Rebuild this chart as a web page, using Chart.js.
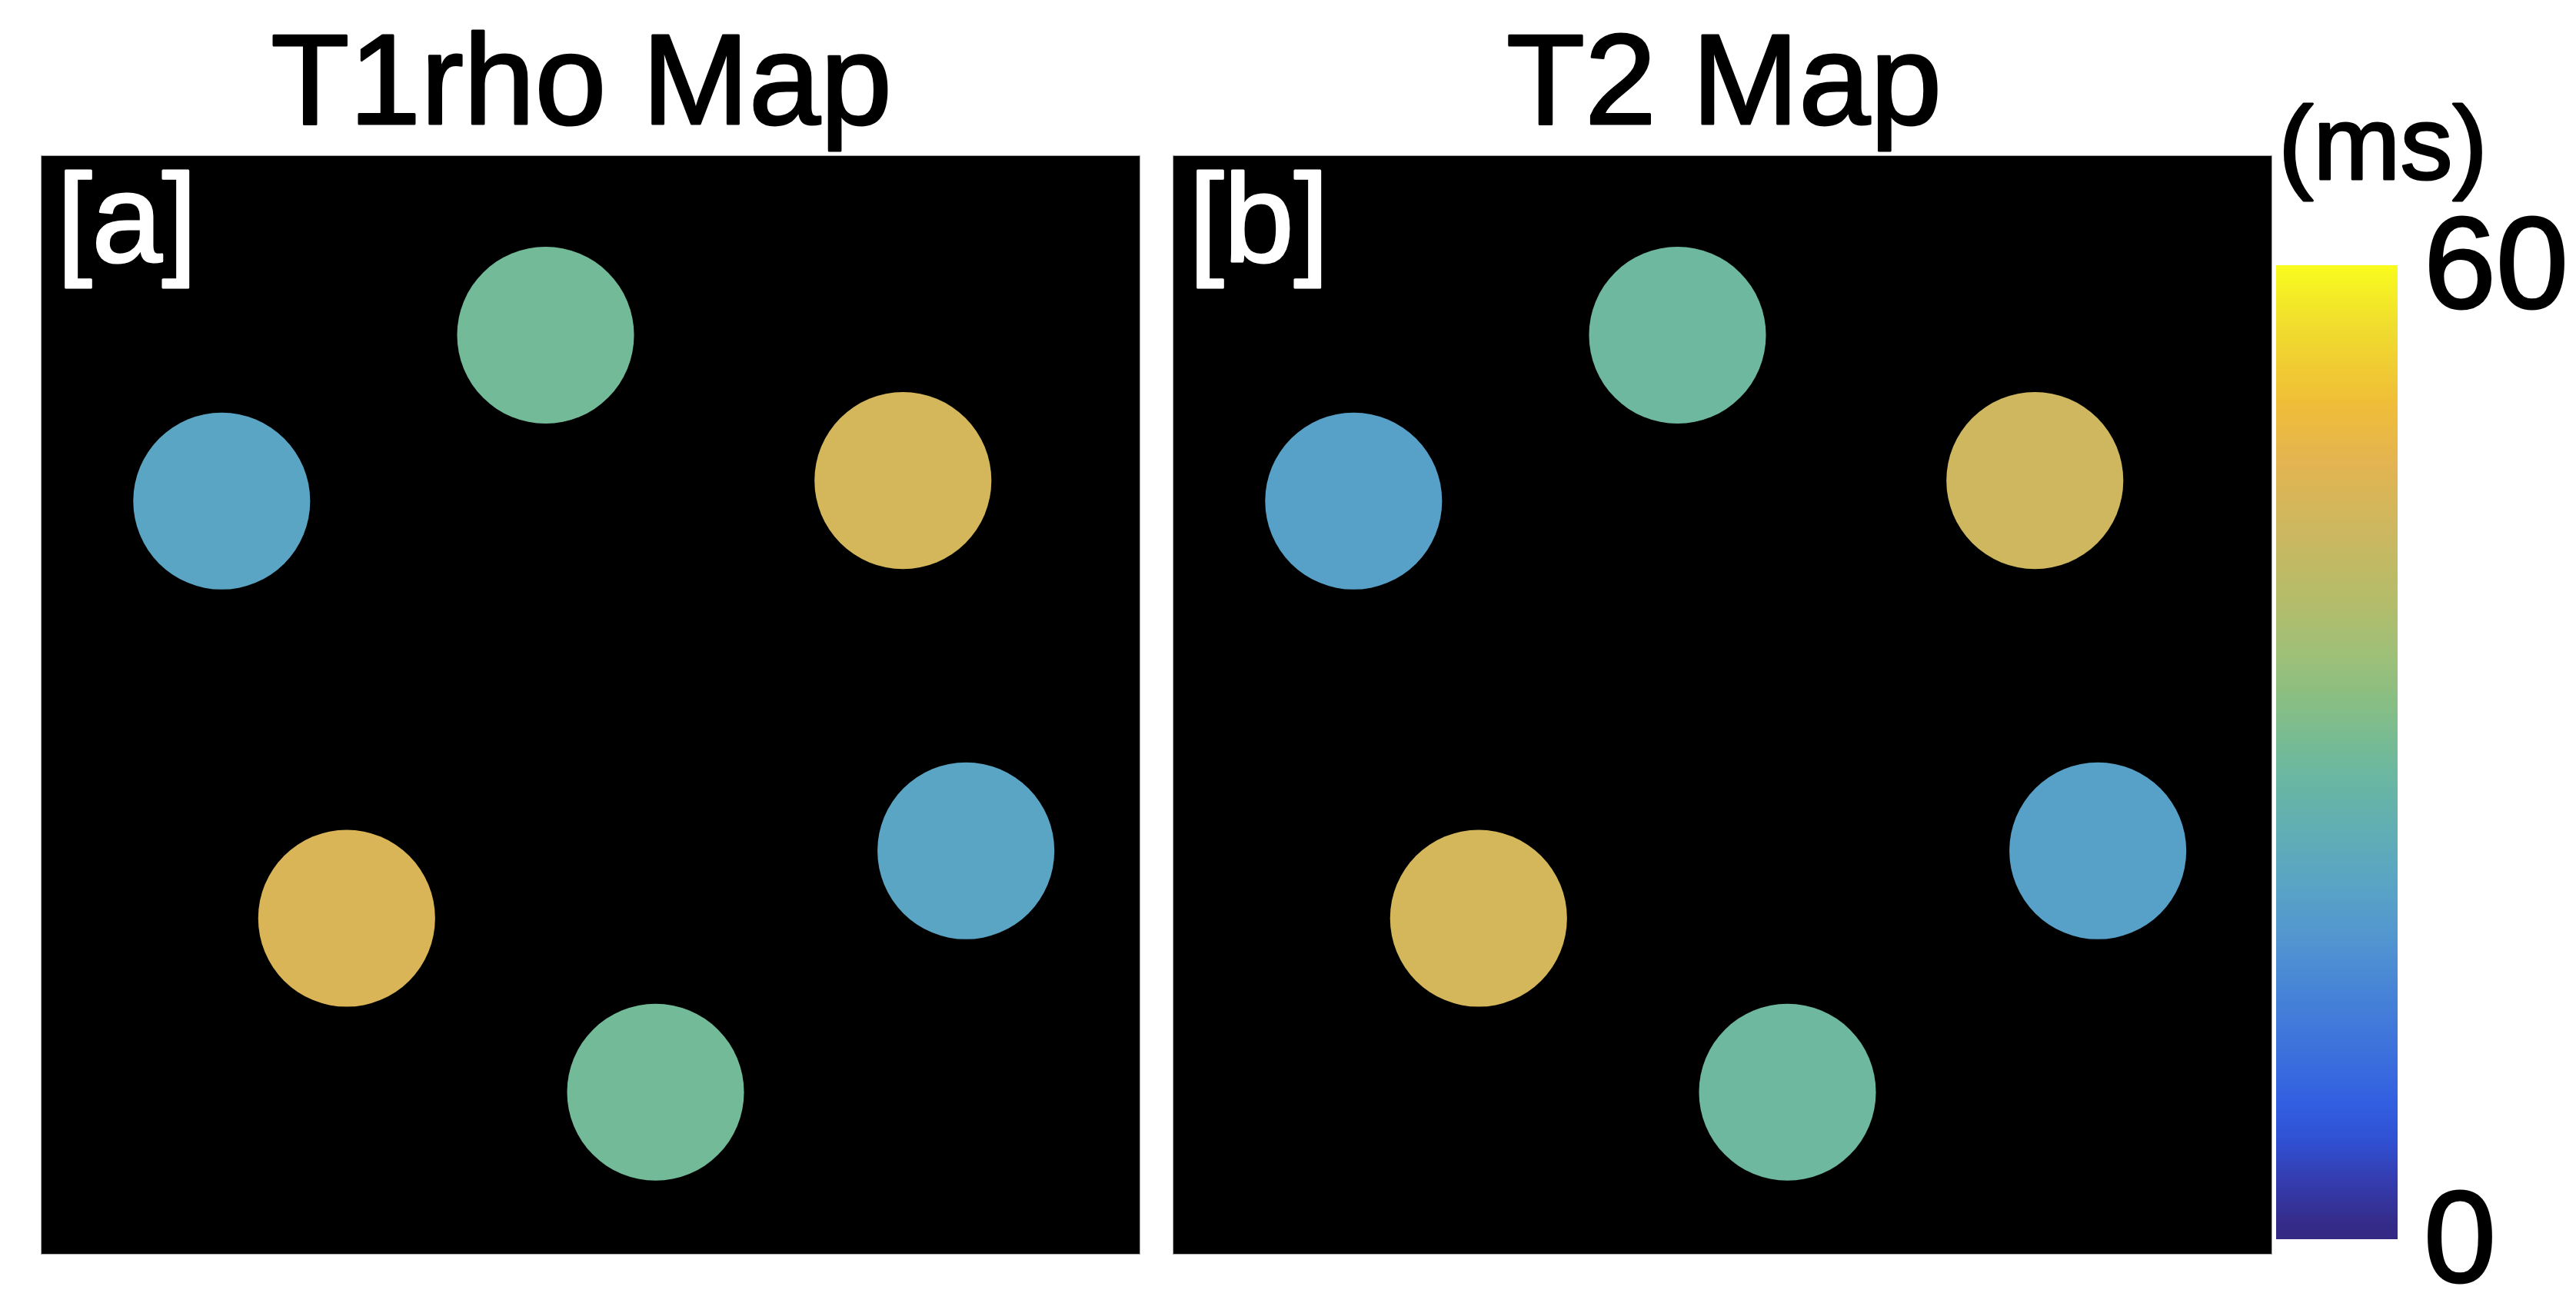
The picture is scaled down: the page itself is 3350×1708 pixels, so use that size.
<!DOCTYPE html>
<html>
<head>
<meta charset="utf-8">
<script src="https://cdn.jsdelivr.net/npm/chart.js@4/dist/chart.umd.min.js"></script>
<style>
  html, body { margin: 0; padding: 0; background: #fff; }
  body { width: 3350px; height: 1708px; position: relative; overflow: hidden; }
  canvas { position: absolute; top: 0; }
</style>
</head>
<body>
<canvas id="mapA" width="1430" height="1632" style="left:53px"></canvas>
<canvas id="mapB" width="1430" height="1632" style="left:1525px"></canvas>
<canvas id="cbar" width="500" height="1708" style="left:2850px"></canvas>
<script>
// vial centres, in image pixels (image is imageSize x imageSize)
var imageSize = 220;
var vialRadius = 17.7;
var vialX = [101, 36.2, 172.5, 61.2, 185.1, 123];
var vialY = [36, 69.2, 65.1, 152.7, 139.2, 187.5];

// mean relaxation time per vial (ms)
var t1rhoValues = [30, 22, 45, 46, 22, 30];
var t2Values = [29, 21, 44, 45, 21, 29];

var colorMin = 0;
var colorMax = 60;
var colorTicks = [0, 60];

// colormap sampled from the colour bar, [fraction, rgb]
var cmap = [
    [0.00, [52, 40, 130]],
    [0.02, [53, 45, 140]],
    [0.06, [52, 60, 175]],
    [0.10, [48, 80, 210]],
    [0.14, [50, 95, 225]],
    [0.19, [60, 112, 220]],
    [0.25, [70, 130, 215]],
    [0.31, [82, 150, 208]],
    [0.37, [90, 165, 195]],
    [0.42, [97, 174, 180]],
    [0.47, [105, 182, 163]],
    [0.51, [118, 187, 148]],
    [0.55, [135, 190, 132]],
    [0.60, [158, 192, 120]],
    [0.66, [182, 188, 105]],
    [0.73, [205, 183, 95]],
    [0.80, [228, 180, 80]],
    [0.86, [240, 190, 55]],
    [0.94, [240, 222, 45]],
    [1.00, [249, 251, 30]]
];

var FONT = 'Arial, "Liberation Sans", sans-serif';

function cmapColor(t) {
    t = Math.max(0, Math.min(1, t));
    for (var i = 1; i < cmap.length; i++) {
        if (t <= cmap[i][0]) {
            var a = cmap[i - 1], b = cmap[i];
            var f = (t - a[0]) / (b[0] - a[0]);
            var c = a[1].map(function (v, k) { return Math.round(v + (b[1][k] - v) * f); });
            return 'rgb(' + c.join(',') + ')';
        }
    }
    return 'rgb(' + cmap[cmap.length - 1][1].join(',') + ')';
}

function valueColor(v) {
    return cmapColor((v - colorMin) / (colorMax - colorMin));
}

// text drawn a little heavier, like the exported figure
function heavyText(c, text, x, y, size, color, align) {
    c.save();
    c.font = size + 'px ' + FONT;
    c.textAlign = align;
    c.textBaseline = 'alphabetic';
    c.fillStyle = color;
    c.strokeStyle = color;
    c.lineWidth = 3;
    c.lineJoin = 'round';
    c.fillText(text, x, y);
    c.strokeText(text, x, y);
    c.restore();
}

Chart.defaults.font.family = FONT;
Chart.defaults.color = '#000';

var mapPanel = {
    id: 'mapPanel',
    beforeDraw: function (chart) {
        var a = chart.chartArea, c = chart.ctx;
        c.save();
        c.fillStyle = '#000';
        c.fillRect(a.left, a.top, a.right - a.left, a.bottom - a.top);
        c.strokeStyle = '#aaa';
        c.lineWidth = 1;
        c.strokeRect(a.left + 0.5, a.top + 0.5, a.right - a.left - 1, a.bottom - a.top - 1);
        c.restore();
    },
    afterDraw: function (chart, args, opts) {
        var a = chart.chartArea, c = chart.ctx;
        heavyText(c, opts.title, (a.left + a.right) / 2 + opts.shift, a.top - 41, 167, '#000', 'center');
        heavyText(c, opts.label, a.left + 21, a.top + 138, 164, '#fff', 'left');
    }
};

function makeMap(id, title, label, values, shift) {
    var pts = vialX.map(function (x, i) { return { x: x, y: vialY[i], v: values[i] }; });
    var rad = function (ctx) {
        var s = ctx.chart.scales.x;
        return s.getPixelForValue(vialRadius) - s.getPixelForValue(0);
    };
    return new Chart(document.getElementById(id), {
        type: 'scatter',
        data: {
            datasets: [{
                data: pts,
                pointStyle: 'circle',
                borderWidth: 0,
                pointRadius: rad,
                pointHoverRadius: rad,
                pointBackgroundColor: function (ctx) { return valueColor(ctx.raw.v); }
            }]
        },
        options: {
            responsive: false,
            animation: false,
            layout: { padding: { top: 202, left: 0, right: 0, bottom: 0 }, autoPadding: false },
            scales: {
                x: { type: 'linear', min: 0, max: imageSize, display: false },
                y: { type: 'linear', min: 0, max: imageSize, reverse: true, display: false }
            },
            plugins: {
                legend: { display: false },
                tooltip: { enabled: false },
                mapPanel: { title: title, label: label, shift: shift }
            }
        },
        plugins: [mapPanel]
    });
}

makeMap('mapA', 'T1rho Map', '[a]', t1rhoValues, -12);
makeMap('mapB', 'T2 Map', '[b]', t2Values, 2);

// colour bar
new Chart(document.getElementById('cbar'), {
    type: 'bar',
    data: {
        labels: [''],
        datasets: [{
            data: [colorMax],
            barPercentage: 1,
            categoryPercentage: 1,
            borderWidth: 0,
            backgroundColor: function (ctx) {
                var chart = ctx.chart;
                if (!chart.chartArea) return '#888';
                var y = chart.scales.y;
                var g = chart.ctx.createLinearGradient(0, y.getPixelForValue(colorMin), 0, y.getPixelForValue(colorMax));
                cmap.forEach(function (s) { g.addColorStop(s[0], 'rgb(' + s[1].join(',') + ')'); });
                return g;
            }
        }]
    },
    options: {
        responsive: false,
        animation: false,
        layout: { padding: { left: 110, right: 0, top: 345, bottom: 96 }, autoPadding: false },
        scales: {
            x: { display: false },
            y: {
                position: 'right',
                min: colorMin,
                max: colorMax,
                grid: { display: false, drawTicks: false },
                border: { display: false },
                afterBuildTicks: function (s) { s.ticks = colorTicks.map(function (v) { return { value: v }; }); },
                afterFit: function (s) { s.width = 232; s.paddingTop = 0; s.paddingBottom = 0; },
                ticks: {
                    padding: 34,
                    labelOffset: 8,
                    color: '#000',
                    textStrokeColor: '#000',
                    textStrokeWidth: 3,
                    font: { size: 169, lineHeight: 1 }
                }
            }
        },
        plugins: {
            legend: { display: false },
            tooltip: { enabled: false }
        }
    },
    plugins: [{
        id: 'unitLabel',
        afterDraw: function (chart) {
            var a = chart.chartArea;
            heavyText(chart.ctx, '(ms)', a.left + 3, 233, 136, '#000', 'left');
        }
    }]
});
</script>
</body>
</html>
